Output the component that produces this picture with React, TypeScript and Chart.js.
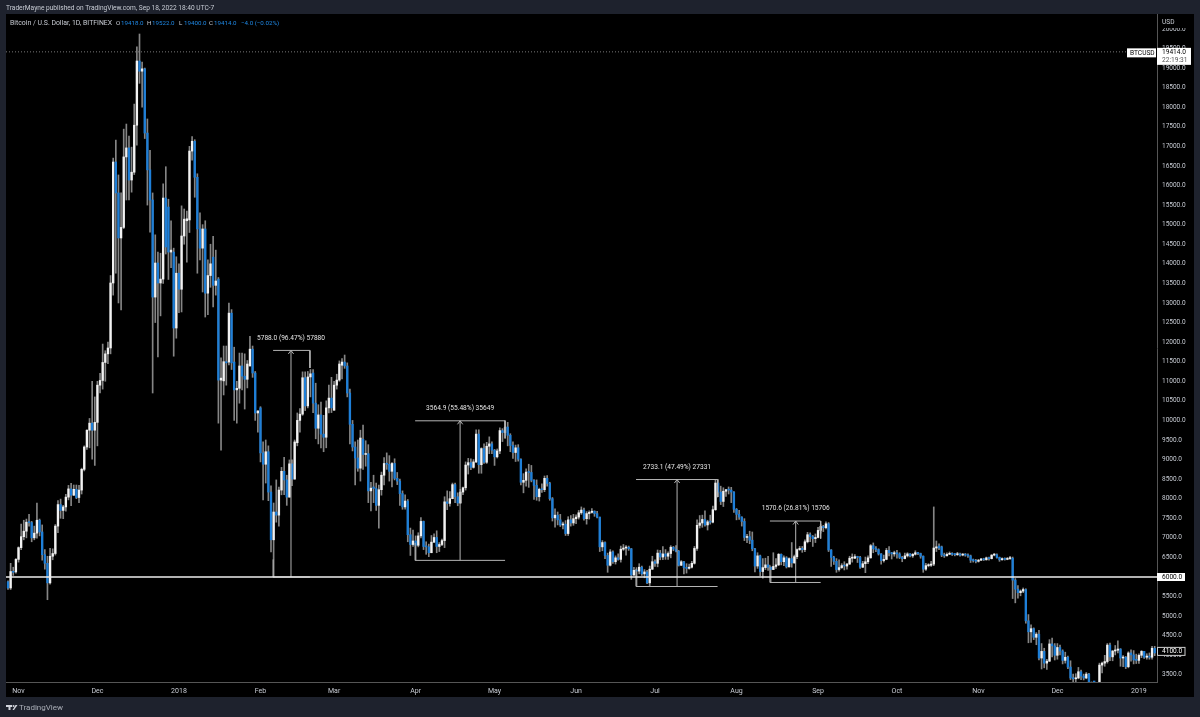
import { Chart } from "chart.js/auto";
import { useEffect, useRef } from "react";

// one line per month, first candle is 28 Oct 2017 (day 0), last is 7 Jan 2019
const opens = [
  5880,5720,6140,6130,
  6450,6750,7030,7170,7400,7390,7000,7120,7450,7150,6570,6350,5850,6530,6600,7300,7850,7700,7790,8040,8250,8090,8240,8030,8220,8750,9320,9750,9930,9750,
  9950,10900,11020,11480,11700,11850,13510,16600,15810,14660,14930,16730,16960,16140,16340,17540,19180,18920,18980,17340,16400,15630,13150,14020,13510,13610,15680,15450,14300,14300,12360,
  13760,13350,14710,15100,15120,16880,17130,16210,14890,14400,14890,13250,13700,14170,13450,13610,11030,11010,11500,11490,12740,11490,10780,10820,11390,11130,11050,11390,11820,11210,10190,
  10320,9170,8880,9200,8170,6950,7660,7580,8220,8700,8480,8040,8890,8500,9430,10000,10160,11090,10370,11110,11210,10440,9800,10140,9650,9570,10320,10570,
  10260,10900,11030,11410,11490,11390,10700,9900,9320,9040,8780,9520,9130,9150,8200,8300,8260,7830,8230,8600,8900,8880,8700,8900,8520,8450,8130,7790,7940,7080,6830,
  6920,6810,7050,7420,6780,6770,6620,6890,7010,6780,6830,6930,7920,7880,8000,8360,8050,7890,8170,8280,8860,8920,8800,8940,9650,8870,9280,8930,9340,9400,
  9240,9070,9220,9740,9690,9830,9620,9360,9180,9300,9010,8420,8470,8680,8670,8470,8340,8050,8240,8230,8520,8390,8000,7510,7580,7460,7330,7350,7110,7460,7380,
  7490,7530,7640,7710,7490,7620,7650,7680,7620,7530,6770,6880,6550,6300,6640,6390,6490,6450,6710,6740,6760,6720,6050,6170,6150,6250,6080,6130,5850,6200,
  6390,6350,6610,6510,6590,6530,6600,6760,6710,6660,6300,6390,6240,6220,6250,6350,6730,7320,7380,7470,7330,7410,7400,7720,8400,8170,7930,8190,8230,8220,8170,
  7730,7600,7530,7420,7010,7030,6940,6720,6280,6540,6140,6240,6310,6250,6190,6270,6310,6580,6390,6490,6260,6470,6360,6520,6700,6730,6700,6900,7080,7030,6980,
  7010,7190,7290,7260,7360,6690,6500,6400,6190,6240,6290,6280,6330,6480,6480,6520,6500,6250,6340,6390,6490,6800,6720,6700,6590,6420,6450,6680,6620,6590,
  6620,6590,6500,6470,6540,6590,6540,6580,6620,6600,6530,6200,6290,6300,6330,6740,6790,6770,6560,6540,6580,6600,6580,6570,6590,6560,6570,6560,6540,6430,6420,
  6400,6430,6460,6440,6490,6470,6560,6570,6500,6440,6470,6450,6470,6480,5920,5690,5600,5640,5680,4880,4600,4680,4460,4540,3930,4100,3800,3850,4290,4240,
  4000,4200,4110,3870,3950,3700,3420,3400,3420,3580,3470,3420,3520,3310,3210,3200,3230,3750,3800,3840,4260,3960,4110,4130,4160,3930,3950,3710,4060,4010,3880,
  3870,4000,4100,3950,3980,3950,4180,
];
const closes = [
  5720,6140,6120,6450,
  6750,7030,7170,7400,7390,7000,7120,7450,7150,6570,6350,5850,6530,6600,7300,7850,7700,7790,8040,8250,8090,8240,8030,8220,8750,9320,9750,9930,9750,9950,
  10900,11020,11480,11700,11850,13510,16600,15810,14660,14930,16730,16960,16140,16340,17540,19180,18920,18980,17340,16400,15630,13150,14020,13510,13610,15680,14430,14300,14350,12360,13760,
  13350,14710,15140,15150,16880,17130,16210,14890,14400,14890,13250,13700,14000,13450,13560,11030,11080,11500,11470,12740,11470,10780,10820,11390,11130,11050,11440,11820,11210,10190,10240,
  9170,8880,9200,8170,6950,7660,7580,8220,8700,8480,8040,8890,8500,9450,10000,10160,11090,10370,11110,11190,10440,9800,10140,9650,9570,10320,10570,10320,
  10900,11030,11440,11490,11390,10700,9900,9320,9040,8780,9550,9130,9150,8200,8270,8260,7830,8230,8600,8900,8880,8700,8900,8520,8450,8130,7790,7940,7080,6830,6920,
  6810,7050,7420,6780,6770,6620,6890,7010,6780,6830,6930,7920,7880,8000,8360,8050,7890,8170,8280,8860,8920,8800,8940,9650,8870,9280,8930,9340,9400,9240,
  9070,9220,9740,9690,9830,9620,9360,9180,9300,9010,8420,8470,8680,8670,8470,8340,8050,8240,8230,8520,8390,8000,7510,7580,7460,7330,7350,7110,7460,7380,7490,
  7530,7640,7710,7490,7620,7650,7680,7620,7530,6770,6880,6550,6300,6640,6390,6490,6450,6710,6740,6760,6720,6050,6170,6150,6250,6080,6130,5850,6200,6390,
  6350,6610,6510,6590,6530,6600,6760,6710,6660,6300,6390,6240,6220,6250,6350,6730,7320,7380,7470,7330,7410,7400,7720,8400,8170,7930,8190,8230,8220,8170,7730,
  7600,7530,7420,7010,7030,6940,6720,6280,6540,6140,6240,6310,6250,6190,6270,6310,6580,6390,6490,6260,6470,6360,6520,6700,6730,6700,6900,7080,7030,6980,7010,
  7190,7290,7260,7360,6690,6500,6400,6190,6240,6290,6280,6330,6480,6480,6520,6500,6250,6340,6390,6490,6800,6720,6700,6590,6420,6450,6680,6620,6590,6620,
  6590,6500,6470,6540,6590,6540,6580,6620,6600,6530,6200,6290,6300,6330,6740,6770,6740,6560,6540,6580,6600,6580,6570,6590,6560,6570,6560,6540,6430,6420,6400,
  6430,6460,6440,6490,6470,6560,6570,6500,6440,6470,6450,6470,6490,5920,5690,5600,5640,5680,4880,4600,4680,4460,4540,3930,4100,3800,3850,4290,4240,4000,
  4200,4110,3870,3950,3700,3420,3400,3420,3580,3470,3420,3520,3310,3210,3200,3230,3750,3800,3840,4260,3960,4110,4130,4160,3930,3950,3710,4060,4010,3880,3870,
  4000,4100,3950,3980,3950,4180,4060,
];
const highs = [
  5900,6350,6250,6470,
  6770,7350,7450,7480,7600,7420,7300,7890,7480,7330,6700,6530,6730,6720,7340,7950,7990,7830,8110,8340,8390,8350,8350,8340,8780,9350,9760,10050,11000,10600,
  11000,11200,11950,11780,12000,13700,16700,17160,16270,15810,17440,17570,17260,16980,18080,19540,19870,19150,19000,17700,16900,15810,14740,14300,14270,16040,16480,15650,15100,14400,14180,
  14000,15480,15400,15350,17000,17250,17170,16300,15300,15000,15100,14100,14500,14700,14350,13650,11600,11900,11900,13000,12830,11870,11000,11720,11720,11700,11530,12150,11900,11250,10250,
  10350,9450,9500,9350,8330,7890,8480,8300,8800,9060,8600,8990,8990,9500,10190,10300,11240,11240,11250,11300,11300,10950,10400,10470,10130,10500,10900,11100,
  11000,11180,11520,11580,11670,11470,10800,10000,9450,9500,9750,9880,9480,9380,8420,8600,8400,8350,8680,9050,9170,9100,8920,9020,8670,8500,8200,8100,7980,7250,7200,
  7050,7130,7520,7430,6900,6840,7060,7100,7180,6880,6970,8050,8200,8180,8400,8400,8150,8240,8300,8940,9030,9020,9000,9760,9760,9300,9400,9440,9580,9450,
  9260,9270,9810,9790,9990,9950,9660,9450,9370,9380,9020,8640,8760,8880,8850,8490,8480,8270,8380,8580,8590,8420,8030,7740,7660,7600,7400,7440,7540,7570,7600,
  7590,7700,7790,7760,7670,7690,7750,7690,7680,7530,6930,6900,6610,6700,6670,6540,6590,6790,6830,6800,6790,6730,6250,6240,6340,6280,6190,6170,6280,6530,
  6440,6690,6680,6780,6700,6640,6800,6780,6800,6680,6420,6400,6340,6330,6400,6780,7460,7570,7580,7690,7450,7580,7810,8490,8490,8320,8280,8240,8300,8290,8180,
  7750,7700,7540,7490,7090,7170,7150,6730,6620,6560,6470,6480,6530,6260,6620,6470,6600,6590,6540,6520,6490,6880,6560,6720,6780,6780,6950,7140,7130,7060,7100,
  7270,7340,7320,7410,7390,6700,6530,6470,6440,6340,6390,6350,6530,6590,6570,6530,6530,6400,6510,6540,6830,6870,6780,6720,6600,6560,6730,6780,6630,6660,
  6680,6620,6530,6610,6620,6600,6600,6670,6630,6610,6540,6350,6340,6400,7790,6920,6850,6790,6610,6620,6640,6620,6600,6630,6610,6600,6600,6590,6560,6460,6450,
  6450,6480,6480,6510,6510,6570,6600,6590,6510,6490,6490,6500,6530,6510,5960,5780,5670,5720,5700,5040,4780,4700,4580,4640,4300,4180,3900,4400,4440,4300,
  4300,4260,4140,4080,3980,3860,3520,3530,3690,3620,3520,3560,3540,3320,3240,3300,3800,3830,4000,4300,4310,4120,4250,4370,4170,3990,3970,4090,4140,4120,4030,
  4040,4120,4100,4040,4060,4230,4230,
];
const lows = [
  5680,5680,6040,6100,
  6380,6700,6950,7000,7300,6900,6950,6990,7050,6430,6200,5420,5820,6440,6560,7130,7500,7490,7680,7970,7820,8080,8000,7900,8120,8710,9260,9300,9010,8850,
  9350,10700,10800,11000,11450,11700,13200,13760,13000,12820,14900,15630,15630,15830,16280,17030,18610,18000,17200,15500,14810,10700,12500,11620,12670,13500,14250,13600,13900,11640,12100,
  12750,12770,14500,14040,14800,16650,15700,13760,14100,13280,12640,12700,13400,12900,13200,9930,9240,10650,10900,11420,11300,10000,9930,10440,10780,10290,10830,11390,11100,10000,9700,
  8940,7970,8400,7950,6640,6000,7400,7300,8100,8100,7830,8040,8330,8500,9350,9700,10130,10250,10320,10600,10200,9530,9400,9300,9200,9300,10190,10200,
  10260,10800,11000,11060,11330,10600,9400,9220,8350,8700,8450,8750,8830,7900,7690,7900,7700,7250,8090,8350,8750,8450,8300,8480,8360,7830,7730,7730,6900,6550,6780,
  6430,6770,7000,6700,6580,6520,6620,6880,6620,6650,6800,6750,7720,7810,8000,7900,7820,7880,8100,8220,8630,8740,8780,8920,8650,8650,8900,8900,9150,9150,
  8850,9040,9150,9460,9680,9350,9200,9030,8950,8960,8350,8150,8320,8290,8430,7980,7960,7940,8160,8180,8320,7960,7430,7270,7330,7290,7230,7060,7060,7300,7320,
  7360,7480,7600,7450,7350,7480,7630,7550,7510,6650,6670,6470,6120,6280,6350,6330,6430,6380,6680,6560,6680,5940,6040,5780,6080,6040,5980,5830,5780,6190,
  6270,6260,6440,6440,6450,6450,6490,6670,6640,6280,6290,6080,6100,6200,6230,6330,6680,7250,7270,7300,7200,7350,7380,7700,8050,7850,7800,8060,8120,7900,7650,
  7460,7470,7300,6930,6880,6850,6670,6130,6220,6030,5970,6190,6170,5880,6190,6220,6290,6310,6290,6230,6250,6250,6350,6470,6680,6630,6650,6870,6900,6780,6880,
  7000,7120,7160,7230,6650,6270,6320,6120,6150,6220,6180,6200,6320,6380,6470,6370,6220,6240,6110,6340,6480,6620,6650,6560,6330,6380,6440,6540,6460,6530,
  6480,6470,6390,6460,6510,6510,6500,6560,6570,6480,6120,6170,6260,6270,6290,6650,6700,6520,6500,6540,6570,6550,6540,6550,6530,6540,6530,6500,6370,6380,6360,
  6380,6420,6420,6430,6430,6460,6540,6480,6400,6430,6430,6440,6450,5450,5340,5460,5520,5600,4820,4320,4330,4400,4270,3880,3650,3680,3640,3840,3960,3880,
  3900,4010,3780,3800,3660,3380,3220,3250,3400,3380,3370,3400,3280,3180,3130,3200,3220,3550,3720,3800,3860,3860,4010,4060,3720,3710,3660,3680,3850,3780,3790,
  3790,3940,3920,3900,3900,3900,3990,
];

const monthLabels = ["Nov", "Dec", "2018", "Feb", "Mar", "Apr", "May", "Jun", "Jul", "Aug", "Sep", "Oct", "Nov", "Dec", "2019"];
const monthDays = [4, 34, 65, 96, 124, 155, 185, 216, 246, 277, 308, 338, 369, 399, 430];
const priceTicks = [
  3500, 4000, 4500, 5000, 5500, 6000, 6500, 7000, 7500, 8000, 8500, 9000, 9500, 10000, 10500, 11000, 11500,
  12000, 12500, 13000, 13500, 14000, 14500, 15000, 15500, 16000, 16500, 17000, 17500, 18000, 18500, 19000, 19500, 20000,
];

// price range tools: [left day, arrow day, right day, bottom price, top price, label]
const measures: [number, number, number, number, number, string][] = [
  [100.8, 107.6, 114.8, 6000, 11788, "5788.0 (96.47%) 57880"],
  [154.8, 171.9, 189, 6425, 9990, "3564.9 (55.48%) 35649"],
  [238.8, 254.4, 269.8, 5757, 8490, "2733.1 (47.49%) 27331"],
  [289.7, 299.5, 309, 5860, 7430, "1570.6 (26.81%) 15706"],
];

const lastPrice = 19414;
const supportLevel = 6000;
const currentLevel = 4100;
const dayMin = -0.76;
const dayMax = 436.88;
const priceMin = 3318;
const priceMax = 20381;

const UP = "#f2f2f2";
const DOWN = "#1e7fd8";
const WICK = "#858585";
const TEXT = "#c8ccd4";
const FONT = "Roboto";

const measureLine = measures.flatMap(([l, m, r, bottom, top]) => [
  { x: l, y: top }, { x: r, y: top }, { x: r, y: top - 450 }, { x: r, y: null },
  { x: l, y: bottom }, { x: r, y: bottom }, { x: r, y: null },
  { x: l, y: bottom }, { x: l, y: bottom + 450 }, { x: l, y: null },
  { x: m, y: bottom }, { x: m, y: top }, { x: m, y: null },
  { x: m - 1, y: top - 90 }, { x: m, y: top }, { x: m + 1, y: top - 90 }, { x: m, y: null },
]);

const chartDecor = {
  id: "chartDecor",
  beforeDraw(chart: Chart) {
    const ctx = chart.ctx;
    ctx.save();
    ctx.fillStyle = "#1e222d";
    ctx.fillRect(0, 0, 1200, 717);
    ctx.fillStyle = "#000000";
    ctx.fillRect(6, 14, 1188, 683);
    ctx.restore();
  },
  afterDraw(chart: Chart) {
    const ctx = chart.ctx;
    const xs = chart.scales.x;
    const ys = chart.scales.y;
    const right = chart.chartArea.right;
    ctx.save();
    ctx.textBaseline = "middle";
    ctx.textAlign = "left";

    ctx.font = `6.6px ${FONT}`;
    ctx.fillStyle = TEXT;
    ctx.fillText("TraderMayne published on TradingView.com, Sep 18, 2022 18:40 UTC-7", 6, 8);

    // legend row
    ctx.font = `6.9px ${FONT}`;
    ctx.fillText("Bitcoin / U.S. Dollar, 1D, BITFINEX", 10, 23);
    const ohlc = [["O", "19418.0", 116], ["H", "19522.0", 147], ["L", "19400.0", 179], ["C", "19414.0", 209]] as const;
    ctx.font = `6.2px ${FONT}`;
    ohlc.forEach(([k, v, x]) => {
      ctx.fillStyle = TEXT;
      ctx.fillText(k, x, 23);
      ctx.fillStyle = "#1e88e5";
      ctx.fillText(v, x + 5, 23);
    });
    ctx.fillText("−4.0 (−0.02%)", 241, 23);

    // measure labels
    ctx.textAlign = "center";
    ctx.fillStyle = "#e4e4e4";
    ctx.font = `6.6px ${FONT}`;
    measures.forEach(([, m, , , top, label]) => {
      ctx.fillText(label, xs.getPixelForValue(m), ys.getPixelForValue(top) - 12.5);
    });

    // price axis tags
    ctx.textAlign = "left";
    ctx.fillStyle = "#000000";
    ctx.fillRect(right + 1, 15, 36, 13);
    ctx.fillStyle = TEXT;
    ctx.fillText("USD", right + 5, 22);

    const lastY = ys.getPixelForValue(lastPrice);
    ctx.fillStyle = "#ffffff";
    ctx.fillRect(1127, lastY - 3.5, 29, 9);
    ctx.fillRect(right, lastY - 4, 34, 17);
    ctx.fillStyle = "#000000";
    ctx.fillText("BTCUSD", 1130, lastY + 1);
    ctx.fillText(lastPrice.toFixed(1), right + 5, lastY);
    ctx.fillStyle = "#555555";
    ctx.fillText("22:19:31", right + 5, lastY + 8);

    const supportY = ys.getPixelForValue(supportLevel);
    ctx.fillStyle = "#ffffff";
    ctx.fillRect(right, supportY - 4, 28, 8);
    ctx.fillStyle = "#000000";
    ctx.fillText(supportLevel.toFixed(1), right + 5, supportY);

    const currentY = ys.getPixelForValue(currentLevel);
    ctx.fillStyle = "#000000";
    ctx.fillRect(right, currentY - 4.5, 28, 9);
    ctx.strokeStyle = "#cfcfcf";
    ctx.strokeRect(right + 0.5, currentY - 4, 27.5, 8);
    ctx.fillStyle = "#ffffff";
    ctx.fillText(currentLevel.toFixed(1), right + 5, currentY);

    // footer logo and name
    ctx.fillStyle = "#d1d4dc";
    ctx.fillRect(6, 705, 6, 2);
    ctx.fillRect(8.5, 705, 2, 5);
    ctx.beginPath();
    ctx.arc(13.5, 706, 1, 0, Math.PI * 2);
    ctx.fill();
    ctx.beginPath();
    ctx.moveTo(15.5, 705);
    ctx.lineTo(12.5, 710);
    ctx.lineTo(14, 710);
    ctx.lineTo(17.5, 705);
    ctx.fill();
    ctx.fillStyle = "#a9adb6";
    ctx.font = `8px ${FONT}`;
    ctx.fillText("TradingView", 19, 708);
    ctx.restore();
  },
};

export default function App() {
  const canvasRef = useRef<HTMLCanvasElement | null>(null);

  useEffect(() => {
    document.body.style.margin = "0";
    const canvas = canvasRef.current;
    if (!canvas) {
      return;
    }
    const chart = new Chart(canvas, {
      type: "bar",
      data: {
        datasets: [
          {
            type: "line",
            data: [{ x: dayMin, y: supportLevel }, { x: dayMax, y: supportLevel }],
            borderColor: "#ececec",
            borderWidth: 1.6,
            pointRadius: 0,
            order: 1,
          },
          {
            type: "line",
            data: measureLine,
            borderColor: "#b4b4b4",
            borderWidth: 1,
            pointRadius: 0,
            spanGaps: false,
            order: 2,
          },
          {
            type: "line",
            data: [{ x: dayMin, y: lastPrice }, { x: 433, y: lastPrice }],
            borderColor: "#777777",
            borderWidth: 1,
            borderDash: [1, 2],
            pointRadius: 0,
            order: 3,
          },
          {
            type: "bar",
            data: opens.map((o, i) => ({ x: i, y: [o, closes[i]] })),
            backgroundColor: opens.map((o, i) => (closes[i] >= o ? UP : DOWN)),
            barThickness: 1.7,
            minBarLength: 1,
            grouped: false,
            order: 4,
          },
          {
            type: "bar",
            data: lows.map((l, i) => ({ x: i, y: [l, highs[i]] })),
            backgroundColor: WICK,
            barThickness: 1,
            grouped: false,
            order: 5,
          },
        ] as any,
      },
      options: {
        responsive: false,
        animation: false,
        devicePixelRatio: 1,
        layout: { padding: { left: 6, top: 14, right: 6, bottom: 20 } },
        plugins: { legend: { display: false }, tooltip: { enabled: false } },
        scales: {
          x: {
            type: "linear",
            min: dayMin,
            max: dayMax,
            offset: false,
            afterBuildTicks: (scale: any) => {
              scale.ticks = monthDays.map((value) => ({ value }));
            },
            afterFit: (scale: any) => {
              scale.height = 15;
            },
            grid: { display: true, drawOnChartArea: false, drawTicks: false },
            border: { color: "#555555" },
            ticks: {
              autoSkip: false,
              maxRotation: 0,
              padding: 5,
              color: TEXT,
              font: { family: FONT, size: 7 },
              callback: (value: any) => monthLabels[monthDays.indexOf(value)] ?? "",
            },
          },
          y: {
            position: "right",
            min: priceMin,
            max: priceMax,
            afterBuildTicks: (scale: any) => {
              scale.ticks = priceTicks.map((value) => ({ value }));
            },
            afterFit: (scale: any) => {
              scale.width = 37;
            },
            grid: { display: true, drawOnChartArea: false, drawTicks: false },
            border: { color: "#555555" },
            ticks: {
              autoSkip: false,
              padding: 5,
              color: TEXT,
              font: { family: FONT, size: 6.5 },
              callback: (value: any) => Number(value).toFixed(1),
            },
          },
        },
      } as any,
      plugins: [chartDecor],
    });
    return () => {
      chart.destroy();
    };
  }, []);

  return (
    <div style={{ width: 1200, height: 717 }}>
      <canvas ref={canvasRef} width={1200} height={717} style={{ display: "block" }} />
    </div>
  );
}
